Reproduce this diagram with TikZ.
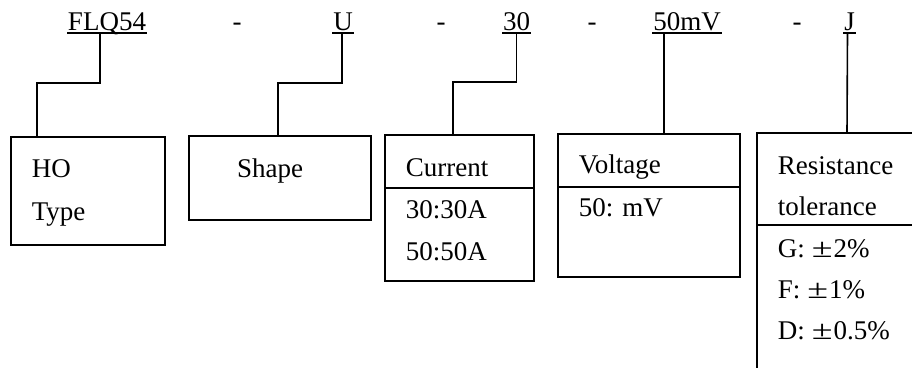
\documentclass[tikz,border=0pt]{standalone}
\usepackage{graphicx}
\usepackage{fontspec}
\setmainfont{Liberation Serif}
\newcommand{\fs}{\fontsize{27}{32}\selectfont}
\newcommand{\wpm}{\hspace{7pt}\scalebox{1.4}[1]{±}\hspace{1pt}}
\begin{document}
\begin{tikzpicture}[x=1pt,y=-1pt,line width=1.6pt,
  lbl/.style={inner sep=0pt,anchor=base,font=\fs},
  txt/.style={inner sep=0pt,anchor=base west,font=\fs},
  box/.style={draw,inner sep=0pt,anchor=north west},
  ul/.style={line width=1.6pt}]
\useasboundingbox (0,0) rectangle (912,367);
\clip (0,0) rectangle (912,367);
% top code labels
\node[lbl] (l1) at (107,30) {FLQ54};
\node[lbl] (d1) at (237,30) {-};
\node[lbl] (l2) at (343,30) {U};
\node[lbl] (d2) at (441,30) {-};
\node[lbl] (l3) at (516.5,30) {30};
\node[lbl] (d3) at (592,30) {-};
\node[lbl] (l4) at (687,30) {50mV};
\node[lbl] (d4) at (797,30) {-};
\node[lbl] (l5) at (849.5,30) {J};
\foreach \n in {l1,l2,l3,l4,l5}
  \draw[ul] ([yshift=-3pt]\n.base west) -- ([yshift=-3pt]\n.base east);
% boxes
\node[box,minimum width=154pt,minimum height=108pt] (b1) at (10,136) {};
\node[box,minimum width=182pt,minimum height=84pt] (b2) at (188,135) {};
\node[box,minimum width=149pt,minimum height=146pt] (b3) at (384,134) {};
\node[box,minimum width=182pt,minimum height=143pt] (b4) at (557,133) {};
\node[box,minimum width=200pt,minimum height=260pt] (b5) at (756,132) {};
% dividers
\draw ([yshift=-54pt]b3.north west) -- ++(151,0);
\draw ([yshift=-54pt]b4.north west) -- ([yshift=-54pt]b4.north east);
\draw ([yshift=-93pt]b5.north west) -- ([yshift=-93pt]b5.north east);
% connectors
\draw ([xshift=-7pt,yshift=-3pt]l1.base) -- ++(0,50) -| ([xshift=27pt]b1.north west);
\draw ([xshift=-1pt,yshift=-3pt]l2.base) -- ++(0,50) -| ([xshift=90pt]b2.north west);
\draw ([yshift=-3pt]l3.base) -- ++(0,49) -| ([xshift=69pt]b3.north west);
\draw ([xshift=-23pt,yshift=-3pt]l4.base) -- ([xshift=107pt]b4.north west);
\draw ([xshift=-2pt,yshift=-3pt]l5.base) -- ([xshift=91pt]b5.north west);
% texts
\node[txt] (t1) at (31,177) {HO};
\node[txt] (t2) at (31,220) {Type};
\node[lbl] (t3) at (270,177) {Shape};
\node[txt] (t4) at (405,176) {Current};
\node[txt] (t5) at (405,218) {30:30A};
\node[txt] (t6) at (405,260) {50:50A};
\node[txt] (t7) at (578,173) {Voltage};
\node[txt] (t8) at (578,216) {50: mV};
\node[txt] (t9) at (777,174) {Resistance};
\node[txt] (t10) at (777,215) {tolerance};
\node[txt] (t11) at (777,257) {G:\wpm 2\%};
\node[txt] (t12) at (777,298) {F:\wpm 1\%};
\node[txt] (t13) at (777,339) {D:\wpm 0.5\%};
\end{tikzpicture}
\end{document}
